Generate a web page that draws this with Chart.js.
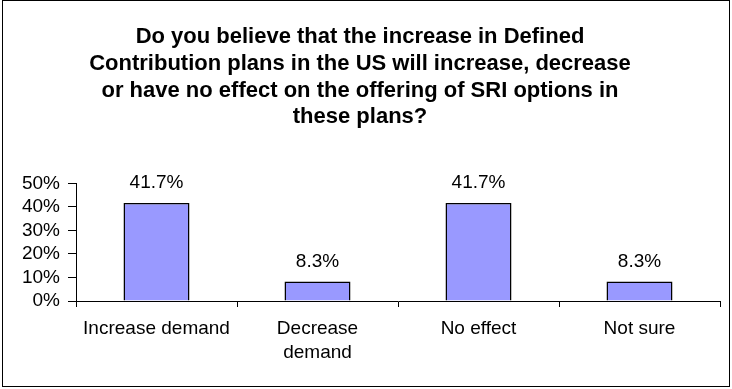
<!DOCTYPE html>
<html>
<head>
<meta charset="utf-8">
<script src="https://cdn.jsdelivr.net/npm/chart.js@4/dist/chart.umd.min.js"></script>
<style>
  html, body { margin: 0; padding: 0; background: #fff; }
  #wrap { position: relative; width: 732px; height: 389px; }
</style>
</head>
<body>
<div id="wrap"><canvas id="c" width="732" height="389"></canvas></div>
<script>
const titleLines = [
  'Do you believe that the increase in Defined',
  'Contribution plans in the US will increase, decrease',
  'or have no effect on the offering of SRI options in',
  'these plans?'
];
const categories = ['Increase demand', ['Decrease', 'demand'], 'No effect', 'Not sure'];
const values = [41.7, 8.3, 41.7, 8.3];
const valueLabels = ['41.7%', '8.3%', '41.7%', '8.3%'];
const yTicks = [0, 10, 20, 30, 40, 50];

const FONT = "'Liberation Sans', Arial, sans-serif";

const valueLabelPlugin = {
  id: 'valueLabels',
  afterDatasetsDraw(chart) {
    const ctx = chart.ctx;
    const meta = chart.getDatasetMeta(0);
    ctx.save();
    ctx.font = '19px ' + FONT;
    ctx.fillStyle = '#000';
    ctx.textAlign = 'center';
    ctx.textBaseline = 'middle';
    meta.data.forEach((bar, i) => {
      ctx.fillText(valueLabels[i], bar.x, bar.y - 20);
    });
    ctx.restore();
  }
};

const framePlugin = {
  id: 'frame',
  afterDraw(chart) {
    const ctx = chart.ctx;
    ctx.save();
    ctx.strokeStyle = '#000';
    ctx.lineWidth = 1;
    ctx.strokeRect(2.5, 0.5, 727, 386);
    ctx.restore();
  }
};

new Chart(document.getElementById('c'), {
  type: 'bar',
  data: {
    labels: categories,
    datasets: [{
      data: values,
      backgroundColor: '#9999FF',
      borderColor: '#000',
      borderWidth: 1.5,
      barPercentage: 0.41,
      categoryPercentage: 1.0
    }]
  },
  options: {
    responsive: false,
    animation: false,
    devicePixelRatio: 1,
    layout: { padding: { left: 0, right: 12, top: 0, bottom: 0 } },
    plugins: {
      legend: { display: false },
      tooltip: { enabled: false },
      title: {
        display: true,
        text: titleLines,
        color: '#000',
        font: { family: FONT, size: 22, weight: 'bold', lineHeight: 1.21 },
        padding: { top: 24, bottom: 53 }
      }
    },
    scales: {
      x: {
        grid: { display: true, drawOnChartArea: false, drawTicks: true, tickLength: 6, color: '#000', offset: true },
        border: { display: true, color: '#000', width: 1 },
        ticks: { color: '#000', font: { family: FONT, size: 19, lineHeight: 1.3 }, padding: 9, maxRotation: 0, autoSkip: false },
        afterFit(scale) { scale.height = 88; }
      },
      y: {
        min: 0,
        max: 50,
        afterBuildTicks(scale) { scale.ticks = yTicks.map(v => ({ value: v })); },
        grid: { display: true, drawOnChartArea: false, drawTicks: true, tickLength: 8, color: '#000' },
        border: { display: true, color: '#000', width: 1 },
        ticks: {
          color: '#000',
          font: { family: FONT, size: 19 },
          padding: 8,
          autoSkip: false,
          callback: v => v + '%'
        },
        afterFit(scale) { scale.width = 76; }
      }
    }
  },
  plugins: [valueLabelPlugin, framePlugin]
});
</script>
</body>
</html>
